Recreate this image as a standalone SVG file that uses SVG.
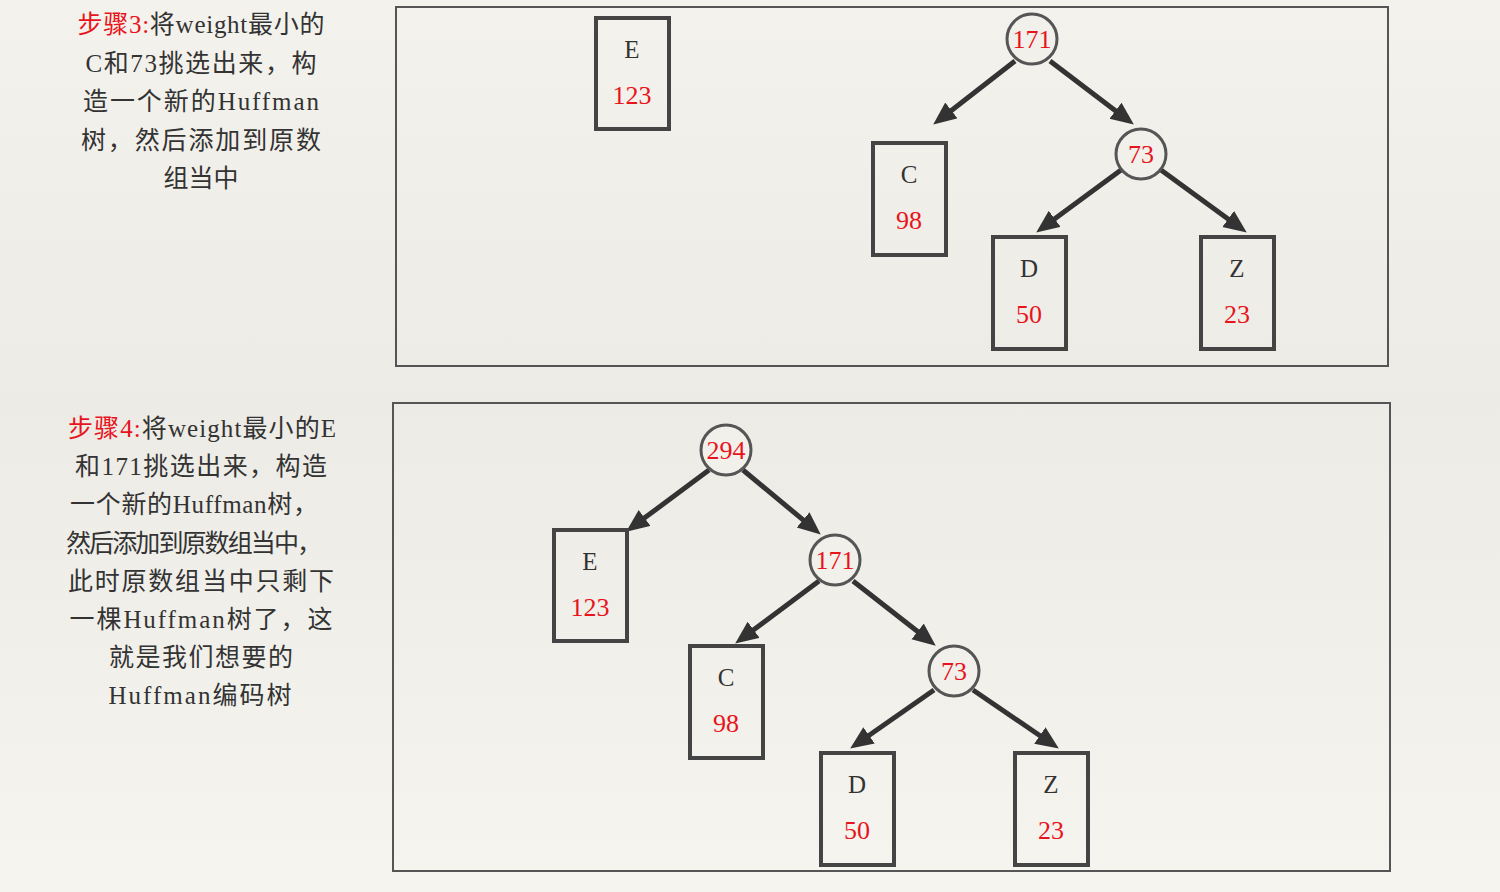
<svg xmlns="http://www.w3.org/2000/svg" width="1500" height="892" viewBox="0 0 1500 892">
<defs>
<linearGradient id="bg" x1="0" y1="0" x2="0" y2="1">
<stop offset="0" stop-color="#f4f2ec"/>
<stop offset="0.45" stop-color="#ecebe6"/>
<stop offset="1" stop-color="#f6f4ef"/>
</linearGradient>
<marker id="arr" markerUnits="userSpaceOnUse" markerWidth="26" markerHeight="22" refX="2" refY="10" orient="auto">
<path d="M0,0 L23,10 L0,20 Z" fill="#333"/>
</marker>
<style>
.panel{fill:none;stroke:#555;stroke-width:2}
.box{fill:none;stroke:#444;stroke-width:4}
.circ{fill:#f2f0eb;stroke:#555;stroke-width:3}
.lbl{font-family:"Liberation Serif",serif;font-size:25px;fill:#333;text-anchor:middle}
.num{font-family:"Liberation Serif",serif;font-size:26px;fill:#e8141c;text-anchor:middle}
.edge{stroke:#333;stroke-width:5;fill:none;marker-end:url(#arr)}
.desc{font-family:"Liberation Serif","Noto Sans CJK SC",serif;font-size:25px;fill:#333;text-anchor:middle}
.red{fill:#e8141c}
</style>
</defs>
<rect width="1500" height="892" fill="url(#bg)"/>

<g id="text-step3">
<text class="desc" x="201" y="33" textLength="247" lengthAdjust="spacing"><tspan class="red">步骤3:</tspan>将weight最小的</text>
<text class="desc" x="201" y="72" textLength="231" lengthAdjust="spacing">C和73挑选出来，构</text>
<text class="desc" x="201" y="110" textLength="236" lengthAdjust="spacing">造一个新的Huffman</text>
<text class="desc" x="201" y="149" textLength="240" lengthAdjust="spacing">树，然后添加到原数</text>
<text class="desc" x="201" y="187" textLength="75" lengthAdjust="spacing">组当中</text>
</g>

<g id="text-step4">
<text class="desc" x="202" y="437" textLength="268" lengthAdjust="spacing"><tspan class="red">步骤4:</tspan>将weight最小的E</text>
<text class="desc" x="201" y="475" textLength="252" lengthAdjust="spacing">和171挑选出来，构造</text>
<text class="desc" x="194" y="513" textLength="248" lengthAdjust="spacing">一个新的Huffman树，</text>
<text class="desc" x="194" y="552" textLength="256" lengthAdjust="spacing">然后添加到原数组当中，</text>
<text class="desc" x="201" y="590" textLength="266" lengthAdjust="spacing">此时原数组当中只剩下</text>
<text class="desc" x="201" y="628" textLength="263" lengthAdjust="spacing">一棵Huffman树了，这</text>
<text class="desc" x="201" y="666" textLength="184" lengthAdjust="spacing">就是我们想要的</text>
<text class="desc" x="200" y="704" textLength="183" lengthAdjust="spacing">Huffman编码树</text>
</g>

<g id="panel-top"><rect class="panel" x="396" y="7" width="992" height="359"/></g>
<g id="panel-bottom"><rect class="panel" x="393" y="403" width="997" height="468"/></g>

<g id="connectors">
<line class="edge" x1="1015" y1="61" x2="949.8" y2="111.7"/>
<line class="edge" x1="1050" y1="61" x2="1117.1" y2="111.9"/>
<line class="edge" x1="1121" y1="170" x2="1053.1" y2="220.1"/>
<line class="edge" x1="1161" y1="170" x2="1229.8" y2="220.2"/>
<line class="edge" x1="709" y1="470" x2="643" y2="519.1"/>
<line class="edge" x1="743" y1="470" x2="804.6" y2="521.2"/>
<line class="edge" x1="819" y1="581" x2="752" y2="631"/>
<line class="edge" x1="853" y1="581" x2="919.2" y2="632.7"/>
<line class="edge" x1="934" y1="690" x2="867.4" y2="736.5"/>
<line class="edge" x1="973" y1="690" x2="1041.5" y2="736.7"/>
</g>

<g id="t-E"><rect class="box" x="596" y="18" width="73" height="111"/><text class="lbl" x="632" y="58">E</text><text class="num" x="632" y="104">123</text></g>
<g id="t-171"><circle class="circ" cx="1032" cy="39" r="25"/><text class="num" x="1032" y="48">171</text></g>
<g id="t-C"><rect class="box" x="873" y="143" width="73" height="112"/><text class="lbl" x="909" y="183">C</text><text class="num" x="909" y="229">98</text></g>
<g id="t-73"><circle class="circ" cx="1141" cy="154" r="25"/><text class="num" x="1141" y="163">73</text></g>
<g id="t-D"><rect class="box" x="993" y="237" width="73" height="112"/><text class="lbl" x="1029" y="277">D</text><text class="num" x="1029" y="323">50</text></g>
<g id="t-Z"><rect class="box" x="1201" y="237" width="73" height="112"/><text class="lbl" x="1237" y="277">Z</text><text class="num" x="1237" y="323">23</text></g>

<g id="b-294"><circle class="circ" cx="726" cy="450" r="25"/><text class="num" x="726" y="459">294</text></g>
<g id="b-E"><rect class="box" x="554" y="530" width="73" height="111"/><text class="lbl" x="590" y="570">E</text><text class="num" x="590" y="616">123</text></g>
<g id="b-171"><circle class="circ" cx="835" cy="560" r="25"/><text class="num" x="835" y="569">171</text></g>
<g id="b-C"><rect class="box" x="690" y="646" width="73" height="112"/><text class="lbl" x="726" y="686">C</text><text class="num" x="726" y="732">98</text></g>
<g id="b-73"><circle class="circ" cx="954" cy="671" r="25"/><text class="num" x="954" y="680">73</text></g>
<g id="b-D"><rect class="box" x="821" y="753" width="73" height="112"/><text class="lbl" x="857" y="793">D</text><text class="num" x="857" y="839">50</text></g>
<g id="b-Z"><rect class="box" x="1015" y="753" width="73" height="112"/><text class="lbl" x="1051" y="793">Z</text><text class="num" x="1051" y="839">23</text></g>
</svg>
